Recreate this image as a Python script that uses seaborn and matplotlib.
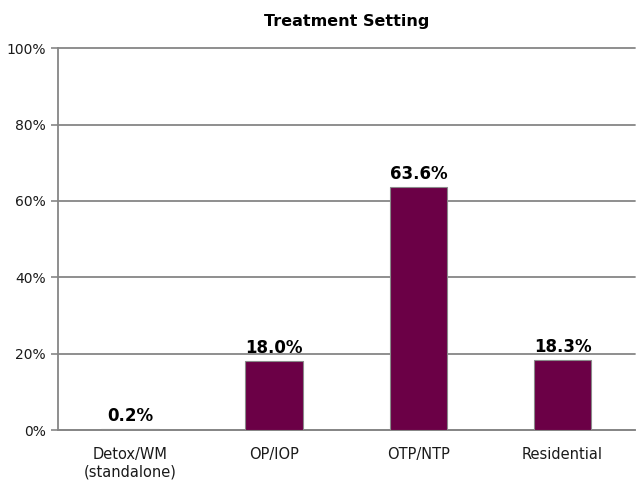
import pandas as pd
import numpy as np
import matplotlib
matplotlib.use('Agg')
import matplotlib.pyplot as plt
import seaborn as sns
from matplotlib.ticker import FuncFormatter, FixedLocator

settings = ['Detox/WM\n(standalone)', 'OP/IOP', 'OTP/NTP', 'Residential']
percents = [0.2, 18.0, 63.6, 18.3]

df = pd.DataFrame({'setting': settings, 'pct': percents})

sns.set_style('white')
plt.rcParams['font.family'] = ['DejaVu Sans']

fig = plt.figure(figsize=(6.36, 4.86), dpi=100)
ax = fig.add_axes([0.091, 0.115, 0.907, 0.786])

sns.barplot(x='setting', y='pct', data=df, color='#6B0046', width=0.4,
            edgecolor='#8a8a8a', linewidth=0.8, saturation=1, ax=ax, zorder=3)

ax.set_ylim(0, 100)
ax.set_xlim(-0.5, 3.5)
ax.set_yticks(np.arange(0, 101, 20))
ax.yaxis.set_major_formatter(FuncFormatter(lambda v, p: f'{v:.0f}%'))
ax.yaxis.grid(True, color='#868686', linewidth=1.3, zorder=0)
ax.set_axisbelow(True)
for gl in ax.get_ygridlines():
    gl.set_clip_on(False)

# ticks between categories
ax.xaxis.set_minor_locator(FixedLocator([0.5, 1.5, 2.5, 3.5]))
ax.tick_params(axis='x', which='major', length=0, pad=12, labelsize=10.5, colors='#1a1a1a')
ax.tick_params(axis='x', which='minor', length=5, width=1.2, color='#868686', direction='out')
ax.tick_params(axis='y', length=5, width=1.2, color='#868686', labelsize=10, colors='#1a1a1a', direction='out', left=True)

for s in ['top', 'right']:
    ax.spines[s].set_visible(False)
for s in ['left', 'bottom']:
    ax.spines[s].set_color('#868686')
    ax.spines[s].set_linewidth(1.3)

ax.bar_label(ax.containers[0], labels=[f'{v:.1f}%' for v in percents],
             padding=3, fontsize=12, fontweight='bold', color='#000000')

ax.set_xlabel('')
ax.set_ylabel('')
ax.set_title('Treatment Setting', fontsize=11.5, fontweight='bold', pad=16, color='#000000')

fig.savefig('out.png', dpi=100)
